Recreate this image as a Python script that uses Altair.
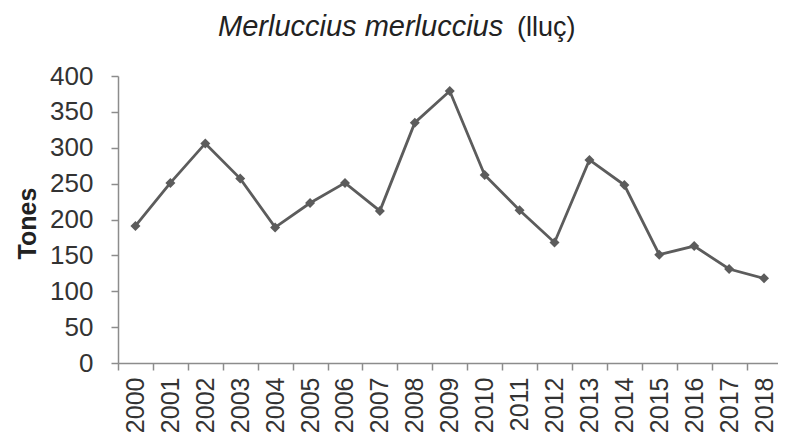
import altair as alt
import pandas as pd

years = [2000, 2001, 2002, 2003, 2004, 2005, 2006, 2007, 2008, 2009,
         2010, 2011, 2012, 2013, 2014, 2015, 2016, 2017, 2018]
tones = [191, 251, 306, 257, 189, 223, 251, 212, 335, 379,
         262, 213, 168, 283, 248, 151, 163, 131, 118]
y_ticks = [0, 50, 100, 150, 200, 250, 300, 350, 400]
title_species = "Merluccius merluccius"
title_common = "(lluç)"

FONT = "Liberation Sans"
LINE_COLOR = "#5c5c5c"
AXIS_COLOR = "#8c8c8c"
PLOT_W = 660
X_MIN, X_MAX = 1999.5, 2018.4
HALF_STEP = PLOT_W / (X_MAX - X_MIN) / 2

df = pd.DataFrame({"year": years, "tones": tones})

x_enc = alt.X(
    "year:Q",
    scale=alt.Scale(domain=[X_MIN, X_MAX], nice=False, zero=False),
    axis=alt.Axis(
        title=None,
        values=years,
        format="d",
        labelAngle=-90,
        labelAlign="right",
        labelBaseline="middle",
        tickOffset=-HALF_STEP,
        labelOffset=HALF_STEP,
        tickSize=7,
        labelPadding=7,
        labelFontSize=25,
        labelFont=FONT,
        labelColor="#333333",
        labelOverlap=False,
        labelFlush=False,
        labelBound=False,
        grid=False,
        domainColor=AXIS_COLOR,
        tickColor=AXIS_COLOR,
        domainWidth=1.5,
        tickWidth=1.5,
    ),
)
y_enc = alt.Y(
    "tones:Q",
    scale=alt.Scale(domain=[0, 400], nice=False),
    axis=alt.Axis(
        values=y_ticks,
        title="Tones",
        titleFont=FONT,
        titleFontSize=25,
        titleFontWeight="bold",
        titleColor="#222222",
        titleX=-91,
        titleY=147,
        titleAlign="center",
        titleBaseline="middle",
        titleAngle=270,
        grid=False,
        tickSize=7,
        labelPadding=18,
        labelFontSize=26,
        labelFont=FONT,
        labelColor="#333333",
        domainColor=AXIS_COLOR,
        tickColor=AXIS_COLOR,
        domainWidth=1.5,
        tickWidth=1.5,
    ),
)

line = alt.Chart(df).mark_line(color=LINE_COLOR, strokeWidth=2.8).encode(x=x_enc, y=y_enc)
points = alt.Chart(df).mark_point(shape="diamond", filled=True, size=100, color=LINE_COLOR, opacity=1).encode(x=x_enc, y=y_enc)

t1 = alt.Chart(pd.DataFrame({"t": [title_species]})).mark_text(
    font=FONT, fontSize=29, fontStyle="italic", align="left", baseline="alphabetic", color="#222222"
).encode(text="t:N", x=alt.value(100), y=alt.value(-40))
t2 = alt.Chart(pd.DataFrame({"t": [title_common]})).mark_text(
    font=FONT, fontSize=27, align="left", baseline="alphabetic", color="#222222"
).encode(text="t:N", x=alt.value(399), y=alt.value(-40))

chart = alt.layer(line, points, t1, t2).properties(
    width=PLOT_W,
    height=287,
    autosize=alt.AutoSizeParams(type="none"),
    padding={"left": 110, "top": 68, "right": 0, "bottom": 72},
).configure_view(stroke=None)

chart.save("out.html", embed_options={"renderer": "svg", "actions": False})
